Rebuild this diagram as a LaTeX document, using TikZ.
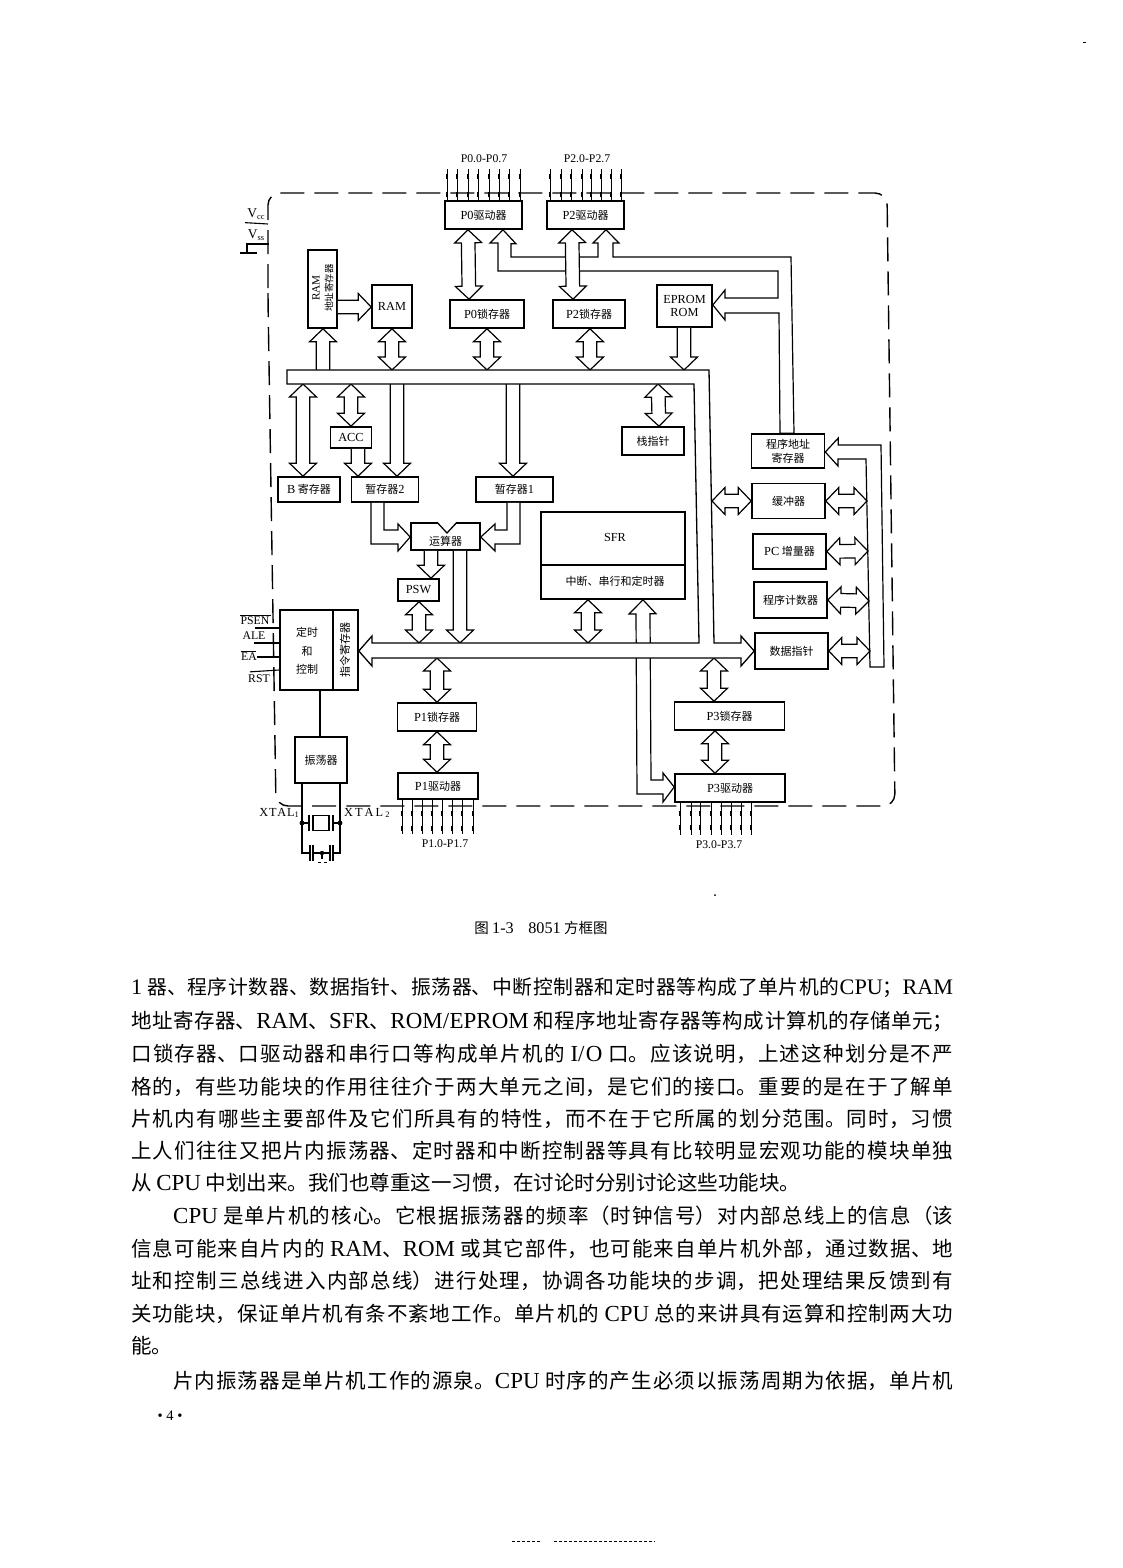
\documentclass[tikz,border=0pt]{standalone}
\usepackage{fontspec}
\setmainfont{Noto Sans CJK SC}
\newfontfamily\romanfont[Scale=1.12]{Liberation Serif}
\usetikzlibrary{calc}
\XeTeXlinebreaklocale "zh"
\XeTeXlinebreakskip=0pt plus 3pt
\tolerance=9999
\newcommand{\la}[1]{{\romanfont #1}}
\newcommand{\fl}[1]{\parfillskip=0pt\relax #1\par}
\def\headlen{13pt}
\def\headwd{13.5pt}
\def\stemwd{6.8pt}
% Block arrow with two heads
\newcommand{\bothway}[2]{\draw[busarrow] (#1)
  -- ($(#1)!\headlen!(#2)!\headwd!90:(#2)$) -- ($(#1)!\headlen!(#2)!\stemwd!90:(#2)$)
  -- ($(#2)!\headlen!(#1)!\stemwd!-90:(#1)$) -- ($(#2)!\headlen!(#1)!\headwd!-90:(#1)$)
  -- (#2)
  -- ($(#2)!\headlen!(#1)!\headwd!90:(#1)$) -- ($(#2)!\headlen!(#1)!\stemwd!90:(#1)$)
  -- ($(#1)!\headlen!(#2)!\stemwd!-90:(#2)$) -- ($(#1)!\headlen!(#2)!\headwd!-90:(#2)$)
  -- cycle;}
% Block arrow with one head, at the second point
\newcommand{\oneway}[2]{\fill[white] ($(#1)!\stemwd!90:(#2)$) -- ($(#2)!\headlen!(#1)!\stemwd!-90:(#1)$) -- ($(#2)!\headlen!(#1)!\stemwd!90:(#1)$) -- ($(#1)!\stemwd!-90:(#2)$) -- cycle;
  \draw[busarrow] ($(#1)!\stemwd!90:(#2)$)
  -- ($(#2)!\headlen!(#1)!\stemwd!-90:(#1)$) -- ($(#2)!\headlen!(#1)!\headwd!-90:(#1)$)
  -- (#2)
  -- ($(#2)!\headlen!(#1)!\headwd!90:(#1)$) -- ($(#2)!\headlen!(#1)!\stemwd!90:(#1)$)
  -- ($(#1)!\stemwd!-90:(#2)$);}
\tikzset{
  busarrow/.style={draw,fill=white,line width=1.2pt,line join=miter},
  blockbox/.style={draw,fill=white,line width=1.6pt,inner sep=0pt,align=center,font=\fontsize{11}{13}\selectfont},
  smalltext/.style={inner sep=0pt,font=\fontsize{11}{13}\selectfont},
  pinline/.style={line width=1pt},
  pinblob/.style={line width=2.6pt},
  boundary/.style={line width=1.4pt,dash pattern=on 24pt off 10pt},
  bookline/.style={anchor=west,inner sep=0pt,text width=822pt,align=justify,font=\fontsize{20.5}{24}\selectfont},
  shortline/.style={anchor=west,inner sep=0pt,font=\fontsize{20.5}{24}\selectfont}
}
\begin{document}
\begin{tikzpicture}[x=1pt,y=-1pt]
\useasboundingbox[fill=white] (0,0) rectangle (1122,1568);
% Chip outline
\draw[boundary,rounded corners=12pt] (268,300) -- (268,193) -- (887,193) -- (895,806) -- (276,806) -- cycle;
% Ports
\node[blockbox,minimum width=77pt,minimum height=28pt] (p0drv) at (483.5,215) {\la{P0}驱动器};
\node[blockbox,minimum width=77pt,minimum height=28pt] (p2drv) at (585.5,215) {\la{P2}驱动器};
\node[blockbox,minimum width=74pt,minimum height=28pt] (p0lat) at (487,314) {\la{P0}锁存器};
\node[blockbox,minimum width=72pt,minimum height=28pt] (p2lat) at (589,314) {\la{P2}锁存器};
\node[blockbox,minimum width=79pt,minimum height=28pt] (p1lat) at (437,717) {\la{P1}锁存器};
\node[blockbox,minimum width=80pt,minimum height=26pt] (p1drv) at (438,786) {\la{P1}驱动器};
\node[blockbox,minimum width=110pt,minimum height=28pt] (p3lat) at (729.5,716) {\la{P3}锁存器};
\node[blockbox,minimum width=110pt,minimum height=28pt] (p3drv) at (730,788) {\la{P3}驱动器};
% Memory
\node[blockbox,minimum width=29pt,minimum height=78pt] (ramaddr) at (322.5,289) {};
\node[smalltext,rotate=90,font=\fontsize{10}{12}\romanfont] (ramname) at (316,288) {RAM};
\node[smalltext,rotate=90,font=\fontsize{9.5}{10}\selectfont] (ramaddrname) at (329,288) {地址寄存器};
\node[blockbox,minimum width=40pt,minimum height=43pt] (ram) at (392,306.5) {\la{RAM}};
\node[blockbox,minimum width=55pt,minimum height=42pt] (eprom) at (684.5,306) {\la{EPROM}\\\la{ROM}};
% Registers and arithmetic
\node[blockbox,minimum width=62pt,minimum height=25pt] (breg) at (309,489.5) {\la{B} 寄存器};
\node[blockbox,minimum width=41pt,minimum height=21pt] (acc) at (351,437.5) {\la{ACC}};
\node[blockbox,minimum width=67pt,minimum height=25pt] (tmp2) at (385,489.5) {暂存器\la{2}};
\node[blockbox,minimum width=77pt,minimum height=25pt] (tmp1) at (514.5,489.5) {暂存器\la{1}};
\node[blockbox,minimum width=69pt,minimum height=27pt] (alu) at (445.5,536.5) {};
\fill[white] (alu.north -| 437,0) -- (447,533) -- (alu.north -| 457,0) -- cycle;
\draw[line width=1.7pt,white] (alu.north -| 438,0) -- (alu.north -| 456,0);
\draw[line width=1.3pt] (alu.north -| 437,0) -- (447,533) -- (alu.north -| 457,0);
\node[smalltext] (aluname) at (445.5,541) {运算器};
\node[blockbox,minimum width=41pt,minimum height=22pt] (psw) at (418.5,590) {\la{PSW}};
\node[blockbox,minimum width=62pt,minimum height=28pt] (stack) at (653,441) {栈指针};
% SFR block
\node[blockbox,minimum width=144pt,minimum height=87pt] (sfr) at (613,555.5) {};
\draw[line width=1.2pt] (sfr.west |- 0,565) -- (sfr.east |- 0,565);
\node[smalltext] (sfrname) at (615,537) {\la{SFR}};
\node[smalltext] (sfrsub) at (615,581) {中断、串行和定时器};
% Program counter column
\node[blockbox,minimum width=73pt,minimum height=34pt] (pcaddr) at (788,451) {程序地址\\[1pt]寄存器};
\node[blockbox,minimum width=73pt,minimum height=35pt] (bufreg) at (788.5,501) {缓冲器};
\node[blockbox,minimum width=73pt,minimum height=35pt] (pcinc) at (789.5,551.5) {\la{PC} 增量器};
\node[blockbox,minimum width=73pt,minimum height=36pt] (pcount) at (790.5,600) {程序计数器};
\node[blockbox,minimum width=73pt,minimum height=36pt] (dptr) at (791.5,651) {数据指针};
% Timing and oscillator
\node[blockbox,minimum width=78pt,minimum height=80pt] (ctrl) at (319,650) {};
\draw[line width=1.2pt] (ctrl.north -| 333,0) -- (ctrl.south -| 333,0);
\node[smalltext] (ctrla) at (307,632) {定时};
\node[smalltext] (ctrlb) at (307,651) {和};
\node[smalltext] (ctrlc) at (307,669) {控制};
\node[smalltext,rotate=90] (ctrld) at (345,650) {指令寄存器};
\node[blockbox,minimum width=52pt,minimum height=46pt] (osc) at (321,760) {振荡器};
\draw[line width=1.3pt] (ctrl.south -| 320,0) -- (osc.north -| 320,0);
% Bus end points
\coordinate (bustop) at (0,370);
\coordinate (busbot) at (0,384);
\coordinate (lowtop) at (0,643);
\coordinate (lowbot) at (0,658);
\coordinate (busedge) at (712,501);
% Arrows among ports and bus
\bothway{p0drv.south -| 468,0}{p0lat.north -| 469,0}
\bothway{p0lat.south -| 487,0}{bustop -| 487,0}
\bothway{p2lat.south -| 590,0}{bustop -| 590,0}
\bothway{ram.south -| 392,0}{bustop -| 392,0}
\oneway{bustop -| 323,0}{ramaddr.south -| 323,0}
\oneway{ramaddr.east |- 0,307}{ram.west |- 0,307}
\oneway{eprom.south -| 684,0}{bustop -| 684,0}
\bothway{busbot -| 658,0}{stack.north -| 659,0}
\bothway{busbot -| 303,0}{breg.north -| 303,0}
\bothway{busbot -| 351,0}{acc.north -| 351,0}
\oneway{acc.south -| 358,0}{tmp2.north -| 358,0}
\oneway{busbot -| 397,0}{tmp2.north -| 397,0}
\oneway{busbot -| 513,0}{tmp1.north -| 513,0}
\oneway{alu.south -| 431,0}{psw.north -| 431,0}
\oneway{alu.south -| 460,0}{lowtop -| 460,0}
\bothway{psw.south -| 419,0}{lowtop -| 419,0}
\bothway{sfr.south -| 588,0}{lowtop -| 588,0}
\bothway{lowbot -| 437,0}{p1lat.north -| 437,0}
\bothway{p1lat.south -| 437,0}{p1drv.north -| 437,0}
\bothway{lowbot -| 714,0}{p3lat.north -| 714,0}
\bothway{p3lat.south -| 715,0}{p3drv.north -| 715,0}
\bothway{bufreg.west}{busedge}
% Elbows into the ALU
\draw[busarrow] (tmp2.south -| 371,0) -- (371,544) -- (398,544) -- (398,551) -- (alu.west |- 0,537) -- (398,524) -- (398,530) -- (384,530) -- (tmp2.south -| 384,0);
\draw[busarrow] (tmp1.south -| 520,0) -- (520,544) -- (495,544) -- (495,551) -- (alu.east |- 0,537) -- (495,524) -- (495,530) -- (507,530) -- (tmp1.south -| 507,0);
% Interrupt path down to P3
\draw[busarrow] (sfr.south -| 643,0) -- ++(13,14) -- ++(-6,0) -- (651,780) -- (663,780) -- (663,773) -- (p3drv.west |- 0,787) -- (663,802) -- (663,794) -- (637,794) -- (636,614) -- (629,614) -- cycle;
% Address path
\draw[busarrow] (p0drv.south -| 503,0) -- ++(13,14) -- ++(-5,0) -- (511,257) -- (598,257) -- (598,243) -- (593,243) -- (p2drv.south -| 606,0) -- (619,243) -- (613,243) -- (613,257) -- (791,257) -- (pcaddr.north -| 794,0) -- (pcaddr.north -| 780,0) -- (779,313) -- (725,313) -- (725,320) -- (eprom.east |- 0,305) -- (725,290) -- (725,298) -- (778,298) -- (778,271) -- (498,271) -- (498,243) -- (490,243) -- cycle;
\bothway{p2drv.south -| 572,0}{p2lat.north -| 573,0}
% Rail on the right
\draw[busarrow] (pcaddr.east |- 0,452) -- ++(13,-14) -- ++(0,7) -- (881,445) -- (884,667) -- (870,667) -- (866,459) -- (838,459) -- (838,466) -- cycle;
\coordinate (railbuf) at (867,501);
\coordinate (railinc) at (868,551);
\coordinate (railcnt) at (869,601);
\coordinate (raildp) at (870,651);
\bothway{bufreg.east}{railbuf}
\bothway{pcinc.east}{railinc}
\bothway{pcount.east}{railcnt}
\bothway{dptr.east}{raildp}
% Internal bus
\draw[busarrow,line width=1.3pt] (287,370) -- (709,370) -- (714,643) -- (741,643) -- (741,636) -- (dptr.west |- 0,651) -- (741,666) -- (741,658) -- (372,658) -- (372,666) -- (ctrl.east |- 0,651) -- (372,636) -- (372,643) -- (699,643) -- (694,384) -- (287,384) -- cycle;
% Port pins
\foreach \x in {447,457,468,478,489,499,509,520} {
  \draw[pinline] (p0drv.north -| \x,0) -- ++(0,-31);
  \draw[pinblob] (p0drv.north -| \x,0) ++(0,-3) -- ++(0,-5) ++(0,-13) -- ++(0,-5);
}
\foreach \x in {550,561,571,582,591,601,611,621} {
  \draw[pinline] (p2drv.north -| \x,0) -- ++(0,-31);
  \draw[pinblob] (p2drv.north -| \x,0) ++(0,-3) -- ++(0,-5) ++(0,-13) -- ++(0,-5);
}
\foreach \x in {402,412,422,432,442,452,462,473} {
  \draw[pinline] (p1drv.south -| \x,0) -- ++(0,34);
  \draw[pinblob] (p1drv.south -| \x,0) ++(0,11) -- ++(0,5) ++(0,10) -- ++(0,5);
}
\foreach \x in {680,691,700,711,721,731,741,751} {
  \draw[pinline] (p3drv.south -| \x,0) -- ++(0,32);
  \draw[pinblob] (p3drv.south -| \x,0) ++(0,8) -- ++(0,5) ++(0,9) -- ++(0,5);
}
\node[smalltext,font=\fontsize{10.5}{12}\romanfont] (p0name) at (484,159) {P0.0-P0.7};
\node[smalltext,font=\fontsize{10.5}{12}\romanfont] (p2name) at (587,159) {P2.0-P2.7};
\node[smalltext,font=\fontsize{10.5}{12}\romanfont] (p1name) at (445,844) {P1.0-P1.7};
\node[smalltext,font=\fontsize{10.5}{12}\romanfont] (p3name) at (719,845) {P3.0-P3.7};
% Supply and control pins
\node[smalltext,font=\fontsize{12}{13}\romanfont] (vcc) at (256,214) {V\raisebox{-2pt}{\fontsize{7.5}{8}\selectfont cc}};
\node[smalltext,font=\fontsize{12}{13}\romanfont] (vss) at (256,235) {V\raisebox{-2pt}{\fontsize{7.5}{8}\selectfont ss}};
\draw[line width=1.1pt] (vcc.south -| 245,0) ++(0,3) -- (268,224);
\draw[line width=1.1pt] (269,244) -- (247,244) -- (247,253);
\draw[line width=1.5pt] (240,253) -- (257,253);
\node[smalltext,font=\fontsize{10.5}{12}\romanfont] (psen) at (255,621) {PSEN};
\draw[line width=1pt] (psen.north west) ++(0,-1) -- ++(31,0);
\node[smalltext,font=\fontsize{10.5}{12}\romanfont] (ale) at (254,636) {ALE};
\node[smalltext,font=\fontsize{10.5}{12}\romanfont] (ea) at (249,657) {EA};
\draw[line width=1pt] (ea.north west) ++(0,-1) -- ++(15,0);
\node[smalltext,font=\fontsize{10.5}{12}\romanfont] (rst) at (259,679) {RST};
\draw[line width=1.1pt] (psen.south |- 0,628) -- (ctrl.west |- 0,628);
\draw[line width=1.1pt] (ale.south |- 0,643) -- (ctrl.west |- 0,643);
\draw[line width=1.1pt] (ea.east) -- (ctrl.west |- ea.east);
\draw[line width=1.1pt] (rst.north -| 250,0) ++(0,-3) -- (ctrl.west |- 0,670);
% Crystal
\node[draw,line width=1.8pt,inner sep=0pt,minimum width=16pt,minimum height=15pt] (xtalcase) at (321,823) {};
\coordinate (xtl) at (302,823);
\coordinate (xtr) at (340,823);
\draw[line width=1.2pt] (osc.south -| xtl) -- (302,853) -- (310,853);
\draw[line width=1.2pt] (osc.south -| xtr) -- (340,853) -- (333,853);
\draw[line width=1.2pt] (313,853) -- (330,853);
\draw[line width=1.2pt] (xtl) -- (309,823);
\draw[line width=1.2pt] (xtr) -- (333,823);
\draw[line width=1.4pt] (309,815) -- (309,831);
\draw[line width=1.4pt] (333,815) -- (333,831);
\foreach \x in {310,313,330,333} \draw[line width=1.4pt] (\x,845) -- (\x,861);
\fill (xtl) circle (2.4pt);
\fill (xtr) circle (2.4pt);
\fill (322,853) circle (2.2pt);
\draw[line width=1.1pt] (322,853) -- (322,859);
\draw[line width=1pt,dashed] (318,862) -- (327,862);
\node[smalltext,font=\fontsize{11}{12}\romanfont,anchor=east] (xtal1) at (299,813) {X\hspace{.8pt}T\hspace{.8pt}A\hspace{.8pt}L\raisebox{-1pt}{\fontsize{7.5}{8}\selectfont 1}};
\node[smalltext,font=\fontsize{11}{12}\romanfont,anchor=west] (xtal2) at (344,813) {X\,T\,A\,L\,\raisebox{-1pt}{\fontsize{7.5}{8}\selectfont 2}};
% Caption and page text
\node[inner sep=0pt,font=\fontsize{14.5}{16}\selectfont] (caption) at (541,928) {图 \la{1-3}\quad\la{8051} 方框图};
\node[bookline,font=\fontsize{19.8}{24}\selectfont] (line1) at (131,988) {\fl{\la{1} 器、程序计数器、数据指针、振荡器、中断控制器和定时器等构成了单片机的\la{CPU}；\la{RAM}}};
\node[bookline] (line2) at (131,1021) {\fl{地址寄存器、\la{RAM}、\la{SFR}、\la{ROM/EPROM} 和程序地址寄存器等构成计算机的存储单元；}};
\node[bookline] (line3) at (131,1054) {\fl{口锁存器、口驱动器和串行口等构成单片机的 \la{I/O} 口。应该说明，上述这种划分是不严}};
\node[bookline] (line4) at (131,1087) {\fl{格的，有些功能块的作用往往介于两大单元之间，是它们的接口。重要的是在于了解单}};
\node[bookline] (line5) at (131,1119) {\fl{片机内有哪些主要部件及它们所具有的特性，而不在于它所属的划分范围。同时，习惯}};
\node[bookline] (line6) at (131,1151) {\fl{上人们往往又把片内振荡器、定时器和中断控制器等具有比较明显宏观功能的模块单独}};
\node[shortline] (line7) at (131,1183) {从 \la{CPU} 中划出来。我们也尊重这一习惯，在讨论时分别讨论这些功能块。};
\node[bookline,text width=780pt] (line8) at (173,1216) {\fl{\la{CPU} 是单片机的核心。它根据振荡器的频率（时钟信号）对内部总线上的信息（该}};
\node[bookline] (line9) at (131,1249) {\fl{信息可能来自片内的 \la{RAM}、\la{ROM} 或其它部件，也可能来自单片机外部，通过数据、地}};
\node[bookline] (line10) at (131,1281) {\fl{址和控制三总线进入内部总线）进行处理，协调各功能块的步调，把处理结果反馈到有}};
\node[bookline] (line11) at (131,1314) {\fl{关功能块，保证单片机有条不紊地工作。单片机的 \la{CPU} 总的来讲具有运算和控制两大功}};
\node[shortline] (line12) at (131,1346) {能。};
\node[bookline,text width=780pt] (line13) at (173,1381) {\fl{片内振荡器是单片机工作的源泉。\la{CPU} 时序的产生必须以振荡周期为依据，单片机}};
\node[inner sep=0pt,font=\fontsize{13}{14}\romanfont] (pageno) at (170,1416) {\textbullet\ 4 \textbullet};
% Specks from the scan
\fill (1083,42) rectangle (1086,43);
\fill (715,895) circle (1pt);
\draw[line width=1pt,dash pattern=on 3pt off 2pt] (512,1541) -- (540,1541) (554,1541) -- (655,1541);
\end{tikzpicture}
\end{document}
